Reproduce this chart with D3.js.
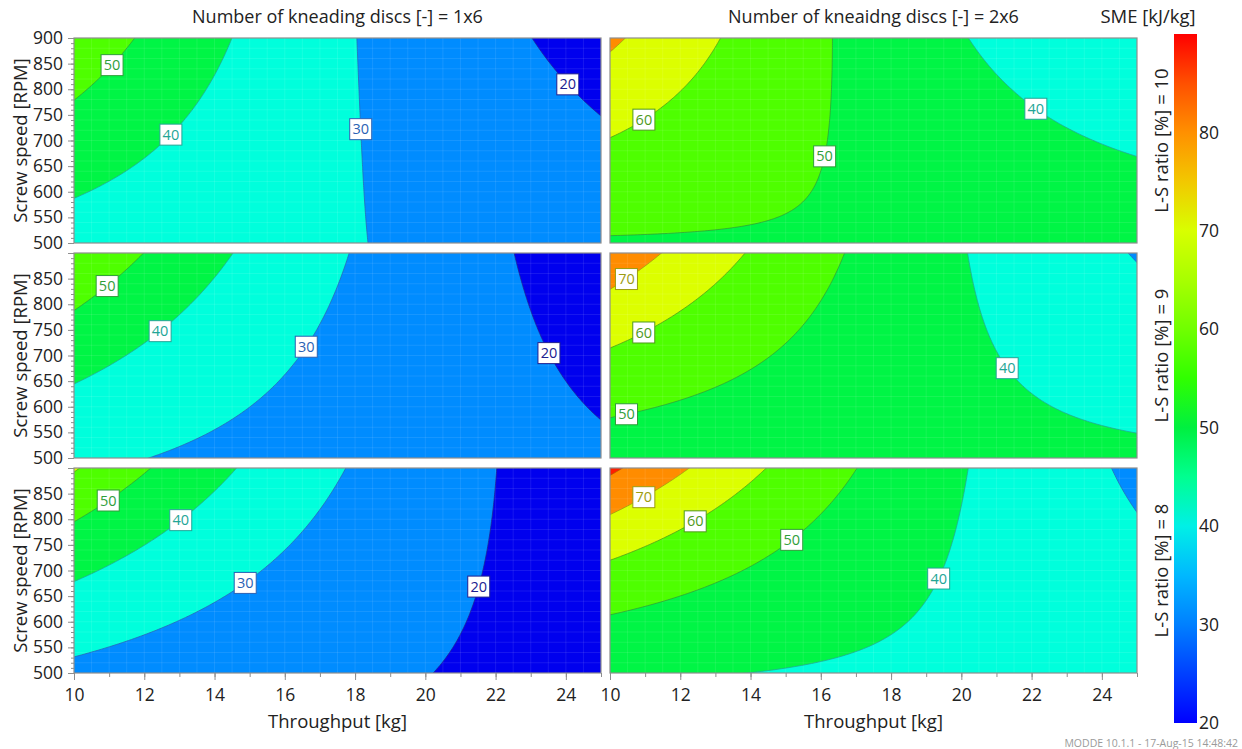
<!DOCTYPE html>
<html>
<head>
<meta charset="utf-8">
<script src="https://cdn.jsdelivr.net/npm/d3@7"></script>
<style>
  body { margin: 0; background: #fff; }
  svg text { font-family: "Open Sans", "Noto Sans", sans-serif; }
</style>
</head>
<body>
<svg id="chart" width="1242" height="749"></svg>
<script>
// ---- Factor ranges, ticks and titles ----
const throughputDomain = [10, 25];
const speedDomain = [500, 900];
const xTickValues = [10, 12, 14, 16, 18, 20, 22, 24];
const yTickValues = [500, 550, 600, 650, 700, 750, 800, 850, 900];
const contourLevels = [20, 30, 40, 50, 60, 70, 80, 90];
const colorbarTicks = [20, 30, 40, 50, 60, 70, 80];
const colorbarDomain = [20, 90];
const columnTitles = ["Number of kneading discs [-] = 1x6", "Number of kneaidng discs [-] = 2x6"];
const rowTitles = ["L-S ratio [%] = 10", "L-S ratio [%] = 9", "L-S ratio [%] = 8"];

// ---- SME iso-lines per setting: [SME kJ/kg, throughput kg, screw speed RPM] ----
const kd1_ls10 = [[50, 10, 783], [50, 11.72, 900], [40, 10, 589], [40, 14.5, 900], [40, 11.6, 640], [40, 13.74, 787],
  [30, 18.03, 900], [30, 18.42, 500], [30, 18.17, 600], [20, 23.05, 900], [20, 25, 751]];
const kd2_ls10 = [[70, 10.45, 900], [70, 10, 873], [60, 10, 703], [60, 13.13, 900],
  [50, 16.3, 900], [50, 16.1, 720], [50, 15.6, 578], [50, 15.0, 542], [50, 13.2, 524], [50, 10, 519],
  [40, 20.15, 900], [40, 21.38, 823], [40, 23.7, 693], [40, 25, 673]];
const kd1_ls9 = [[50, 10, 789], [50, 11.96, 900], [40, 10, 645], [40, 14.53, 900],
  [30, 17.83, 900], [30, 12.39, 500], [30, 15.2, 615], [30, 13.74, 556], [20, 22.52, 900], [20, 25, 576]];
const kd2_ls9 = [[70, 11.48, 900], [70, 10, 831], [60, 13.85, 900], [60, 10, 715],
  [50, 16.7, 900], [50, 16.0, 818], [50, 14.79, 714], [50, 12.75, 642], [50, 10, 578],
  [40, 20.2, 900], [40, 20.9, 753], [40, 22.4, 609], [40, 25, 547], [30, 24.75, 900], [30, 25, 877]];
const kd1_ls8 = [[60, 10.14, 900], [60, 10, 893], [50, 12.2, 900], [50, 10, 794], [40, 14.61, 900], [40, 10, 678],
  [30, 17.67, 900], [30, 10, 529], [30, 12.95, 609], [30, 16.9, 786], [20, 22.03, 900], [20, 20.38, 500], [20, 21.07, 603]];
const kd2_ls8 = [[80, 10.36, 900], [80, 10, 888], [70, 12.22, 900], [70, 10, 808], [60, 14.43, 900], [60, 10, 720],
  [50, 17.03, 900], [50, 10, 612], [40, 20.2, 900], [40, 12.85, 500], [40, 19.88, 786], [40, 17.84, 542],
  [30, 24.36, 900], [30, 25, 805]];

// ---- Contour label anchors: [SME, throughput, screw speed] ----
const kd1_ls10_labels = [[50, 11.1, 846], [40, 12.75, 712], [30, 18.11, 722], [20, 24.03, 808]];
const kd2_ls10_labels = [[60, 10.98, 739], [50, 16.05, 670], [40, 22.07, 757]];
const kd1_ls9_labels = [[50, 10.95, 835], [40, 12.48, 745], [30, 16.68, 714], [20, 23.5, 704]];
const kd2_ls9_labels = [[70, 10.47, 849], [60, 10.99, 741], [50, 10.48, 582], [40, 21.32, 676]];
const kd1_ls8_labels = [[50, 10.99, 835], [40, 13.03, 799], [30, 14.84, 679], [20, 21.5, 669]];
const kd2_ls8_labels = [[70, 10.98, 841], [60, 12.45, 793], [50, 15.17, 760], [40, 19.14, 692]];

// ---- Colours ----
const bandColors = ["#0000ee", "#008cff", "#00ffdc", "#00f545", "#4eff00", "#dcff00", "#ff8c00", "#ff1e00"];
const labelColors = { 20: "#202090", 30: "#2a62b4", 40: "#23a596", 50: "#2f9e3a", 60: "#4f9a1c", 70: "#9c9c10", 80: "#b35c00" };
const colorbarStops = [[20, "#0000ff"], [25, "#0040ff"], [30, "#0080ff"], [35, "#00b8ff"], [40, "#00f0e6"],
  [45, "#00ff90"], [50, "#00f040"], [55, "#30ff00"], [60, "#70ff00"], [65, "#a8ff00"], [70, "#d8ff00"],
  [75, "#f2c800"], [80, "#ff9000"], [85, "#ff5000"], [90, "#ff0000"]];

// ---- Layout ----
const W = 527, H = 205;
const colX = [74, 610];
const rowY = [38, 253, 468];
const panels = [
  { col: 0, row: 0, pts: kd1_ls10, labels: kd1_ls10_labels },
  { col: 1, row: 0, pts: kd2_ls10, labels: kd2_ls10_labels },
  { col: 0, row: 1, pts: kd1_ls9, labels: kd1_ls9_labels },
  { col: 1, row: 1, pts: kd2_ls9, labels: kd2_ls9_labels },
  { col: 0, row: 2, pts: kd1_ls8, labels: kd1_ls8_labels },
  { col: 1, row: 2, pts: kd2_ls8, labels: kd2_ls8_labels }
];

const svg = d3.select("#chart");
const x = d3.scaleLinear().domain(throughputDomain).range([0, W]);
const y = d3.scaleLinear().domain(speedDomain).range([H, 0]);

// ---- Response surface: ln(SME) quadratic in coded throughput / speed ----
const basis = (T, N) => {
  const u = (T - 17.5) / 7.5, v = (N - 700) / 200;
  return [1, u, v, u * v, u * u, v * v];
};
function solve(A, b) {
  const n = b.length, M = A.map((r, i) => [...r, b[i]]);
  for (let c = 0; c < n; c++) {
    let p = c;
    for (let r = c + 1; r < n; r++) if (Math.abs(M[r][c]) > Math.abs(M[p][c])) p = r;
    [M[c], M[p]] = [M[p], M[c]];
    for (let r = 0; r < n; r++) {
      if (r === c) continue;
      const f = M[r][c] / M[c][c];
      for (let k = c; k <= n; k++) M[r][k] -= f * M[c][k];
    }
  }
  return M.map((r, i) => r[n] / r[i]);
}
function fitSurface(points) {
  const k = 6, A = Array.from({ length: k }, () => new Array(k).fill(0)), b = new Array(k).fill(0);
  points.forEach(([L, T, N]) => {
    const p = basis(T, N), t = Math.log(L);
    for (let i = 0; i < k; i++) { b[i] += p[i] * t; for (let j = 0; j < k; j++) A[i][j] += p[i] * p[j]; }
  });
  A[4][4] += 1e-3; A[5][5] += 1e-3;
  const c = solve(A, b);
  return (T, N) => d3.sum(basis(T, N), (p, i) => p * c[i]);
}

// sampling grid, slightly wider than the plotted range so that edges stay clean
const gT = [9.4, 25.6], gN = [476, 924], nx = 170, ny = 110;
const dT = (gT[1] - gT[0]) / nx, dN = (gN[1] - gN[0]) / ny;

// ---- Titles ----
columnTitles.forEach((t, i) => {
  svg.append("text").attr("x", colX[i] + W / 2).attr("y", 23).attr("text-anchor", "middle")
    .attr("font-size", 18).attr("fill", "#222").text(t);
});
svg.append("text").attr("x", 1148).attr("y", 23).attr("text-anchor", "middle")
  .attr("font-size", 18.5).attr("fill", "#222").text("SME [kJ/kg]");
rowTitles.forEach((t, i) => {
  svg.append("text").attr("transform", `translate(1168,${rowY[i] + H / 2}) rotate(-90)`)
    .attr("text-anchor", "middle").attr("font-size", 18.5).attr("fill", "#222").text(t);
  svg.append("text").attr("transform", `translate(27,${rowY[i] + H / 2}) rotate(-90)`)
    .attr("text-anchor", "middle").attr("font-size", 18.5).attr("fill", "#222").text("Screw speed [RPM]");
});

const defs = svg.append("defs");

panels.forEach((p, pi) => {
  const model = fitSurface(p.pts.concat(p.labels));
  const g = svg.append("g").attr("transform", `translate(${colX[p.col]},${rowY[p.row]})`);
  defs.append("clipPath").attr("id", "clip" + pi).append("rect").attr("width", W).attr("height", H);
  const body = g.append("g").attr("clip-path", `url(#clip${pi})`);

  const values = new Array(nx * ny);
  for (let j = 0; j < ny; j++) for (let i = 0; i < nx; i++) {
    values[i + j * nx] = Math.exp(model(gT[0] + (i + 0.5) * dT, gN[1] - (j + 0.5) * dN));
  }
  const bands = d3.contours().size([nx, ny]).thresholds(contourLevels)(values);
  const path = d3.geoPath(d3.geoTransform({
    point(px, py) { this.stream.point(x(gT[0] + px * dT), y(gN[1] - py * dN)); }
  }));

  body.append("rect").attr("width", W).attr("height", H).attr("fill", bandColors[0]);
  body.selectAll("path.band").data(bands).join("path").attr("class", "band")
    .attr("d", path).attr("fill", d => bandColors[contourLevels.indexOf(d.value) + 1]);

  // fine sampling mesh
  body.append("g").selectAll("line.v").data(d3.range(10.5, 25, 0.5)).join("line")
    .attr("x1", d => x(d)).attr("x2", d => x(d)).attr("y1", 0).attr("y2", H)
    .attr("stroke", "#fff").attr("stroke-opacity", 0.09).attr("stroke-width", 1);
  body.append("g").selectAll("line.h").data(d3.range(520, 900, 20)).join("line")
    .attr("y1", d => y(d)).attr("y2", d => y(d)).attr("x1", 0).attr("x2", W)
    .attr("stroke", "#fff").attr("stroke-opacity", 0.09).attr("stroke-width", 1);

  body.selectAll("path.iso").data(bands.filter(d => labelColors[d.value])).join("path").attr("class", "iso")
    .attr("d", path).attr("fill", "none").attr("stroke", d => labelColors[d.value])
    .attr("stroke-width", 0.9).attr("stroke-opacity", 0.85);

  // contour labels, placed on the fitted iso-line
  const F = (px, py) => model(x.invert(px), y.invert(py));
  p.labels.forEach(([L, T, N]) => {
    let px = x(T), py = y(N);
    const target = Math.log(L);
    for (let it = 0; it < 10; it++) {
      const e = 0.5, f = F(px, py) - target;
      const gx = (F(px + e, py) - F(px - e, py)) / (2 * e), gy = (F(px, py + e) - F(px, py - e)) / (2 * e);
      const g2 = gx * gx + gy * gy;
      if (g2 < 1e-14) break;
      px -= f * gx / g2; py -= f * gy / g2;
    }
    const bw = 22, bh = 21;
    px = Math.max(bw / 2 + 1, Math.min(W - bw / 2 - 1, px));
    py = Math.max(bh / 2 + 1, Math.min(H - bh / 2 - 1, py));
    const lg = g.append("g").attr("transform", `translate(${px},${py})`);
    lg.append("rect").attr("x", -bw / 2).attr("y", -bh / 2).attr("width", bw).attr("height", bh)
      .attr("fill", "#fff").attr("stroke", labelColors[L]).attr("stroke-width", 1);
    lg.append("text").attr("text-anchor", "middle").attr("dy", "0.35em").attr("font-size", 14.5)
      .attr("fill", labelColors[L]).text(L);
  });

  g.append("rect").attr("width", W).attr("height", H).attr("fill", "none")
    .attr("stroke", "#8e8e8e").attr("stroke-width", 1.2);

  // axes
  if (p.col === 0) {
    const minor = g.append("g").call(d3.axisLeft(y).tickValues(d3.range(500, 901, 10)).tickSize(3).tickFormat(""));
    const major = g.append("g").call(d3.axisLeft(y).tickValues(yTickValues).tickSize(6).tickPadding(5)
      .tickFormat(d => (p.row > 0 && d === 900) ? "" : d));
    [minor, major].forEach(a => {
      a.select(".domain").remove();
      a.selectAll("line").attr("stroke", "#8e8e8e");
      a.selectAll("text").attr("font-size", 17.5).attr("fill", "#222").attr("font-family", null);
    });
  }
  if (p.row === 2) {
    const minor = g.append("g").attr("transform", `translate(0,${H})`)
      .call(d3.axisBottom(x).tickValues(d3.range(10, 25.01, 1)).tickSize(4).tickFormat(""));
    const major = g.append("g").attr("transform", `translate(0,${H})`)
      .call(d3.axisBottom(x).tickValues(xTickValues).tickSize(7).tickPadding(9));
    [minor, major].forEach(a => {
      a.select(".domain").remove();
      a.selectAll("line").attr("stroke", "#8e8e8e");
      a.selectAll("text").attr("font-size", 17.5).attr("fill", "#222").attr("font-family", null);
    });
    g.append("text").attr("x", W / 2).attr("y", H + 55).attr("text-anchor", "middle")
      .attr("font-size", 18.5).attr("fill", "#222").text("Throughput [kg]");
  }
});

// ---- Colour bar ----
const cb = d3.scaleLinear().domain(colorbarDomain).range([723, 34]);
const grad = defs.append("linearGradient").attr("id", "smeGrad")
  .attr("x1", 0).attr("x2", 0).attr("y1", 1).attr("y2", 0);
colorbarStops.forEach(([v, c]) => grad.append("stop")
  .attr("offset", (v - colorbarDomain[0]) / (colorbarDomain[1] - colorbarDomain[0])).attr("stop-color", c));
svg.append("rect").attr("x", 1174).attr("y", cb(90)).attr("width", 23).attr("height", cb(20) - cb(90))
  .attr("fill", "url(#smeGrad)");
svg.append("g").selectAll("text").data(colorbarTicks).join("text")
  .attr("x", 1199).attr("y", d => cb(d)).attr("dy", "0.35em")
  .attr("font-size", 17.5).attr("fill", "#222").text(d => d);

svg.append("text").attr("x", 1238).attr("y", 747).attr("text-anchor", "end")
  .attr("font-size", 10.5).attr("fill", "#9a9a9a").text("MODDE 10.1.1 - 17-Aug-15 14:48:42");
</script>
</body>
</html>
